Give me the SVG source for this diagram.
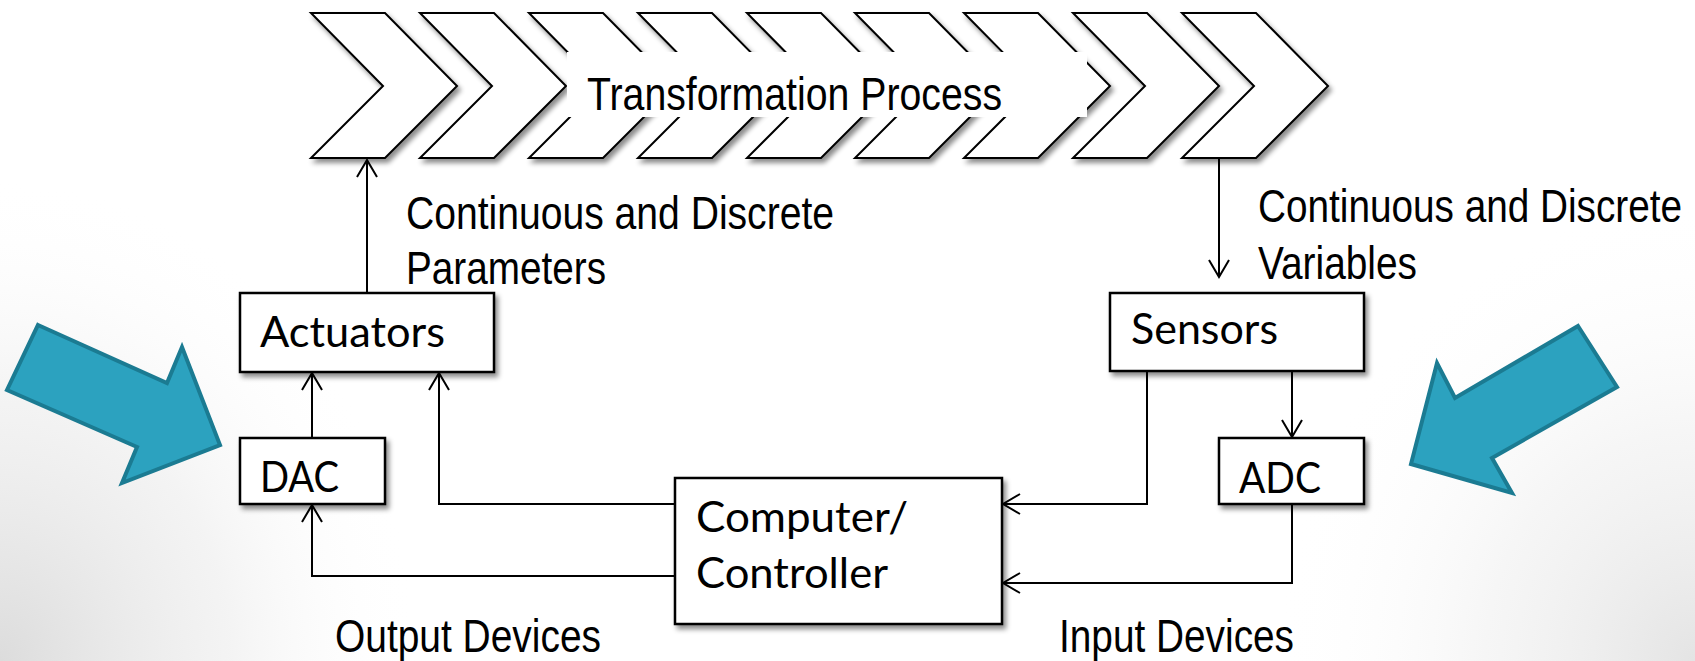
<svg xmlns="http://www.w3.org/2000/svg" width="1695" height="661" viewBox="0 0 1695 661">
  <defs>
    <!-- soft grey shading in the lower corners of the slide -->
    <radialGradient id="shadeLeft" gradientUnits="userSpaceOnUse" cx="0" cy="661" r="420" gradientTransform="translate(0 661) scale(1 1.15) translate(0 -661)">
      <stop offset="0" stop-color="#dcdcdc" stop-opacity="1"/>
      <stop offset="0.55" stop-color="#ececec" stop-opacity="0.6"/>
      <stop offset="1" stop-color="#ffffff" stop-opacity="0"/>
    </radialGradient>
    <radialGradient id="shadeRight" gradientUnits="userSpaceOnUse" cx="1695" cy="661" r="420" gradientTransform="translate(1695 661) scale(1 1.1) translate(-1695 -661)">
      <stop offset="0" stop-color="#e4e4e4" stop-opacity="1"/>
      <stop offset="0.5" stop-color="#f0f0f0" stop-opacity="0.6"/>
      <stop offset="1" stop-color="#ffffff" stop-opacity="0"/>
    </radialGradient>
    <filter id="shadow" x="-10%" y="-10%" width="130%" height="140%">
      <feDropShadow dx="3" dy="4" stdDeviation="2.5" flood-color="#000" flood-opacity="0.45"/>
    </filter>
    <marker id="open" markerUnits="userSpaceOnUse" markerWidth="24" markerHeight="24" viewBox="-20 -12 24 24" refX="0" refY="0" orient="auto">
      <path d="M-17,-10 L0,0 L-17,10" fill="none" stroke="#000" stroke-width="2"/>
    </marker>
    <path id="chev" d="M0,13 H74 L146,86 L74,158 H0 L72,86 Z"/>
  </defs>
  <style>
    .chev { fill: #fff; stroke: #000; stroke-width: 2; filter: url(#shadow); }
    .box { fill: #fff; stroke: #000; stroke-width: 2.5; filter: url(#shadow); }
    .narrow { font-family: "Liberation Sans Narrow", "Liberation Sans", Arial, sans-serif; font-size: 47px; fill: #000; }
    .boxtext { font-family: Lato, "Open Sans", "Noto Sans", sans-serif; font-size: 43px; fill: #000; }
    .conn { fill: none; stroke: #000; stroke-width: 2; marker-end: url(#open); }
    .bigarrow { fill: #2ca2bf; stroke: #1b7b92; stroke-width: 4; stroke-linejoin: miter; }
  </style>

  <rect width="1695" height="661" fill="#fff"/>
  <rect width="1695" height="661" fill="url(#shadeLeft)"/>
  <rect width="1695" height="661" fill="url(#shadeRight)"/>

  <!-- process chevrons -->
  <g id="process">
    <use href="#chev" x="311" class="chev"/>
    <use href="#chev" x="420" class="chev"/>
    <use href="#chev" x="529" class="chev"/>
    <use href="#chev" x="638" class="chev"/>
    <use href="#chev" x="747" class="chev"/>
    <use href="#chev" x="855" class="chev"/>
    <use href="#chev" x="964" class="chev"/>
    <use href="#chev" x="1073" class="chev"/>
    <use href="#chev" x="1182" class="chev"/>
    <rect x="567" y="52" width="520" height="65" fill="#fff"/>
    <text class="narrow" x="587" y="110" textLength="415" lengthAdjust="spacingAndGlyphs">Transformation Process</text>
  </g>

  <!-- flow labels -->
  <g id="labels">
    <text class="narrow" x="406" y="229" textLength="428" lengthAdjust="spacingAndGlyphs">Continuous and Discrete</text>
    <text class="narrow" x="406" y="284" textLength="200" lengthAdjust="spacingAndGlyphs">Parameters</text>
    <text class="narrow" x="1258" y="222" textLength="424" lengthAdjust="spacingAndGlyphs">Continuous and Discrete</text>
    <text class="narrow" x="1258" y="279" textLength="159" lengthAdjust="spacingAndGlyphs">Variables</text>
    <text class="narrow" x="335" y="652" textLength="266" lengthAdjust="spacingAndGlyphs">Output Devices</text>
    <text class="narrow" x="1059" y="652" textLength="235" lengthAdjust="spacingAndGlyphs">Input Devices</text>
  </g>

  <!-- connectors -->
  <g id="connectors">
    <path class="conn" d="M367,293 V160"/>
    <path class="conn" d="M1219,158 V277"/>
    <path class="conn" d="M312,438 V373"/>
    <path class="conn" d="M675,504 H439 V373"/>
    <path class="conn" d="M675,576 H312 V505"/>
    <path class="conn" d="M1147,371 V504 H1003"/>
    <path class="conn" d="M1292,371 V437"/>
    <path class="conn" d="M1292,504 V583 H1003"/>
  </g>

  <g id="actuators">
    <rect class="box" x="240" y="293" width="254" height="79"/>
    <text class="boxtext" x="260" y="347" textLength="185" lengthAdjust="spacingAndGlyphs">Actuators</text>
  </g>
  <g id="dac">
    <rect class="box" x="240" y="438" width="145" height="66"/>
    <text class="boxtext" x="260" y="492" textLength="79" lengthAdjust="spacingAndGlyphs">DAC</text>
  </g>
  <g id="sensors">
    <rect class="box" x="1110" y="293" width="254" height="78"/>
    <text class="boxtext" x="1131" y="344" textLength="147" lengthAdjust="spacingAndGlyphs">Sensors</text>
  </g>
  <g id="adc">
    <rect class="box" x="1219" y="438" width="145" height="66"/>
    <text class="boxtext" x="1239" y="493" textLength="82" lengthAdjust="spacingAndGlyphs">ADC</text>
  </g>
  <g id="computer">
    <rect class="box" x="675" y="478" width="327" height="146"/>
    <text class="boxtext" x="696" y="532" textLength="212" lengthAdjust="spacingAndGlyphs">Computer/</text>
    <text class="boxtext" x="696" y="588" textLength="192" lengthAdjust="spacingAndGlyphs">Controller</text>
  </g>

  <!-- highlight arrows -->
  <g id="arrow-left">
    <polygon class="bigarrow" points="38,325 167,383 182,347 220,445 122,483 137,447 7,390"/>
  </g>
  <g id="arrow-right">
    <polygon class="bigarrow" points="1578,326 1617,387 1492,458 1512,493 1411,464 1437,363 1455,398"/>
  </g>
</svg>
